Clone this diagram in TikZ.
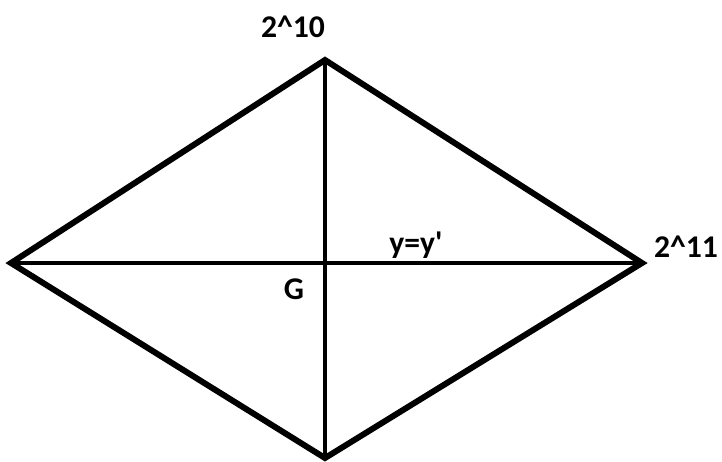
\documentclass[tikz,border=0pt]{standalone}
\usepackage{fontspec}
\setmainfont{Carlito}
\usetikzlibrary{positioning,calc}

\begin{document}
\begin{tikzpicture}[
  x=0.02cm, y=-0.02cm,
  edge/.style={line width=3.4pt, line join=miter, black},
  diag/.style={line width=1.9pt, black},
  lab/.style={font=\fontsize{18}{20}\selectfont\bfseries, inner sep=0pt, text=black}
]
  \useasboundingbox (0,0) rectangle (722,461);

  % corners of the rhombus
  \coordinate (top)    at (325,60);
  \coordinate (left)   at (11,263);
  \coordinate (right)  at (642,263);
  \coordinate (bottom) at (325,458);
  \coordinate (G)      at (325,263);

  % diagonals
  \draw[diag] (left) -- (right);
  \draw[diag] (top) -- (bottom);

  % outline
  \draw[edge] (top) -- (right) -- (bottom) -- (left) -- cycle;

  % labels
  \node[lab] (tl) at (293,27)  {2\^{}10};
  \node[lab] (rl) at (686,247) {2\^{}11};
  \node[lab] (yl) at (416,245) {y=y\textquotesingle};
  \node[lab] (gl) at (294,289) {G};
\end{tikzpicture}
\end{document}
